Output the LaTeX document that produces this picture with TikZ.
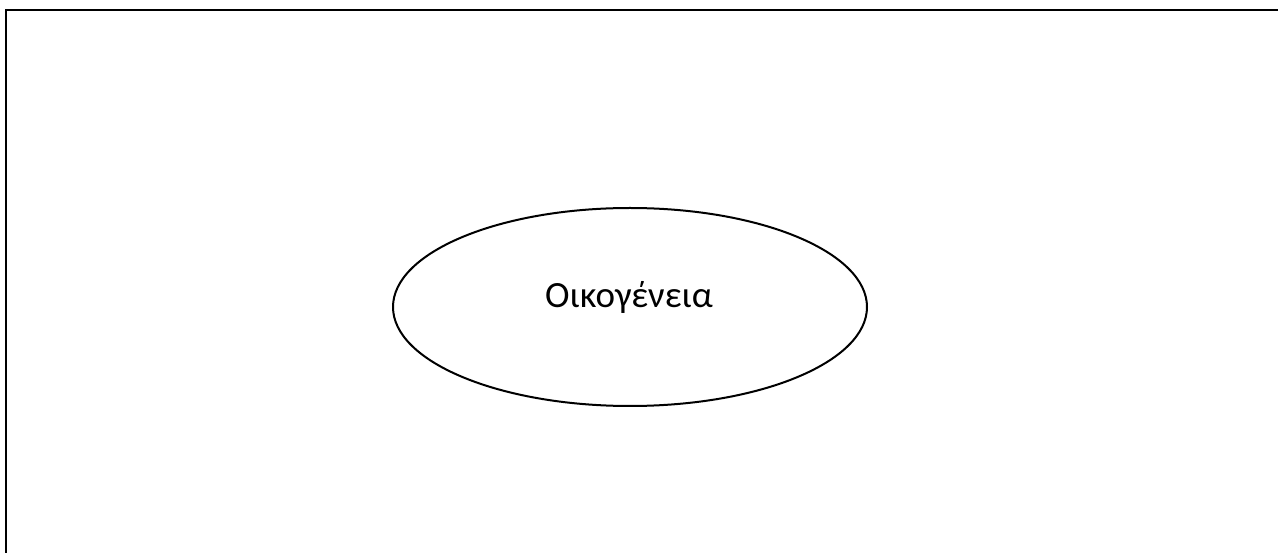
\documentclass[tikz,border=0pt]{standalone}
\usepackage{fontspec}
\setmainfont{Carlito}
\usetikzlibrary{shapes.geometric}
\tikzset{
  frameline/.style={line width=2.6pt, black},
  bubble/.style={ellipse, draw, line width=2pt, minimum width=474pt, minimum height=198pt, inner sep=0pt},
  labeltext/.style={font=\fontsize{37}{44}\selectfont, inner sep=0pt, anchor=base}
}
\begin{document}
\begin{tikzpicture}[x=1pt,y=-1pt]
\useasboundingbox (0,0) rectangle (1278,553);
\coordinate (tl) at (6,10);
\coordinate (tr) at (1280,10);
\coordinate (bl) at (6,555);
\draw[frameline] (tr) -- (tl) -- (bl);
\node[bubble] (fam) at (630,307) {};
\node[labeltext] (famtext) at (629,308) {Οικογένεια};
\end{tikzpicture}
\end{document}
